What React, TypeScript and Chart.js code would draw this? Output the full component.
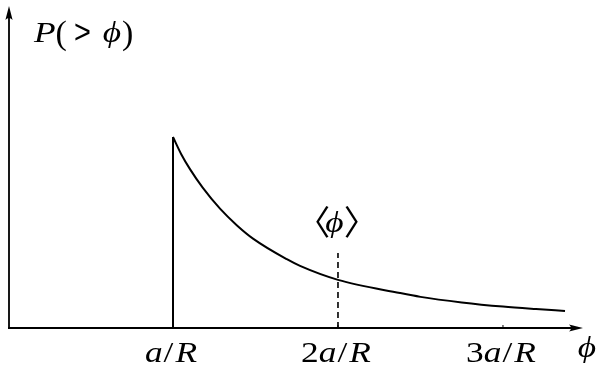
import React, { useEffect, useRef } from "react";
import { Chart, registerables } from "chart.js";

Chart.register(...registerables);

// phi in units of a/R, and P(>phi) normalised to its value at the cutoff
const phiValues = [1.0, 1.05, 1.103, 1.18, 1.285, 1.388, 1.485, 1.69, 1.77, 2.0, 2.376, 2.5, 2.75, 3.0, 3.2, 3.376];
const pValues = [1.0, 0.91, 0.832, 0.735, 0.625, 0.537, 0.468, 0.36, 0.325, 0.252, 0.183, 0.163, 0.134, 0.112, 0.099, 0.089];

const cutoffPhi = 1;
const meanPhi = 2;
const meanMarkerTop = 0.393;

const xMin = 0;
const xMax = 3.485;
const yMin = 0;
const yMax = 1.686;

const SERIF = "'Liberation Serif', 'DejaVu Serif', serif";
const SANS = "'Liberation Sans', 'DejaVu Sans', sans-serif";
const CJK = "'Noto Sans CJK SC', 'DejaVu Sans', sans-serif";

type Run = { t: string; it?: boolean; size?: number; gap?: number; sx?: number; dy?: number; f?: string };
const tickValues = [1, 2, 3];
const tickLabels: Run[][] = [
  [{ t: "a", it: true }, { t: "/", gap: 1 }, { t: "R", it: true, gap: 2 }],
  [{ t: "2" }, { t: "a", it: true }, { t: "/", gap: 1 }, { t: "R", it: true, gap: 2 }],
  [{ t: "3" }, { t: "a", it: true }, { t: "/", gap: 1 }, { t: "R", it: true, gap: 2 }],
];
const yTitle: Run[] = [
  { t: "P", it: true },
  { t: "(", size: 34, sx: 1, dy: 2 },
  { t: ">", size: 34, sx: 0.85, gap: 7, f: SANS, dy: 1 },
  { t: "\u03D5", it: true, gap: 12 },
  { t: ")", size: 34, sx: 1, dy: 2, gap: 1 },
];
const xTitle: Run[] = [{ t: "\u03D5", it: true }];
const meanLabel: Run[] = [
  { t: "\u3008", size: 34, sx: 1, f: CJK, dy: 3 },
  { t: "\u03D5", it: true, gap: -5 },
  { t: "\u3009", size: 34, sx: 1, f: CJK, dy: 3, gap: 0 },
];

const BASE_SIZE = 29;
const X_STRETCH = 1.22;

function font(r: Run) {
  return `${r.it ? "italic " : ""}${r.size ?? BASE_SIZE}px ${r.f ?? SERIF}`;
}

function drawRuns(
  ctx: CanvasRenderingContext2D,
  runs: Run[],
  x: number,
  baseline: number,
  align: "left" | "center"
) {
  ctx.save();
  ctx.fillStyle = "#000";
  ctx.textBaseline = "alphabetic";
  ctx.textAlign = "left";
  let total = 0;
  const widths = runs.map((r) => {
    ctx.font = font(r);
    const w = ctx.measureText(r.t).width * (r.sx ?? X_STRETCH);
    total += w + (r.gap ?? 0);
    return w;
  });
  let cx = align === "center" ? x - total / 2 : x;
  runs.forEach((r, i) => {
    cx += r.gap ?? 0;
    ctx.save();
    ctx.font = font(r);
    ctx.translate(cx, baseline + (r.dy ?? 0));
    ctx.scale(r.sx ?? X_STRETCH, 1);
    ctx.fillText(r.t, 0, 0);
    ctx.restore();
    cx += widths[i];
  });
  ctx.restore();
}

function arrowHead(
  ctx: CanvasRenderingContext2D,
  tx: number,
  ty: number,
  dx: number,
  dy: number
) {
  const len = 14;
  const hw = 3.6;
  const bx = tx - dx * len;
  const by = ty - dy * len;
  const px = -dy;
  const py = dx;
  ctx.beginPath();
  ctx.moveTo(tx, ty);
  ctx.lineTo(bx + px * hw, by + py * hw);
  ctx.quadraticCurveTo(bx + dx * 4, by + dy * 4, bx - px * hw, by - py * hw);
  ctx.closePath();
  ctx.fill();
}

const axesPlugin = {
  id: "axesPlugin",
  beforeDatasetsDraw(chart: any) {
    const { ctx, chartArea, scales } = chart;
    const x = scales.x;
    const y = scales.y;
    const ox = x.getPixelForValue(xMin) + 1;
    const oy = y.getPixelForValue(yMin);
    ctx.save();
    ctx.strokeStyle = "#000";
    ctx.fillStyle = "#000";
    ctx.lineWidth = 1.8;
    ctx.beginPath();
    ctx.moveTo(ox - 1, oy);
    ctx.lineTo(chartArea.right - 6, oy);
    ctx.moveTo(ox, oy);
    ctx.lineTo(ox, chartArea.top + 6);
    ctx.stroke();
    arrowHead(ctx, chartArea.right, oy, 1, 0);
    arrowHead(ctx, ox, chartArea.top, 0, -1);
    ctx.lineWidth = 1;
    tickValues.forEach((v) => {
      const px = x.getPixelForValue(v);
      ctx.beginPath();
      ctx.moveTo(px, oy);
      ctx.lineTo(px, oy - 3);
      ctx.stroke();
    });
    ctx.restore();
  },
  afterDraw(chart: any) {
    const { ctx, chartArea, scales } = chart;
    const x = scales.x;
    const y = scales.y;
    const oy = y.getPixelForValue(yMin);
    tickValues.forEach((v, i) => {
      drawRuns(ctx, tickLabels[i], x.getPixelForValue(v) - 2, oy + 34, "center");
    });
    drawRuns(ctx, xTitle, chartArea.right + 4, oy + 29, "center");
    drawRuns(ctx, yTitle, x.getPixelForValue(xMin) + 26, chartArea.top + 36, "left");
    drawRuns(
      ctx,
      meanLabel,
      x.getPixelForValue(meanPhi) - 1,
      y.getPixelForValue(meanMarkerTop) - 21,
      "center"
    );
  },
};

export default function App() {
  const ref = useRef<HTMLCanvasElement | null>(null);

  useEffect(() => {
    if (!ref.current) return;
    const curve = phiValues.map((p, i) => ({ x: p, y: pValues[i] }));
    const chart = new Chart(ref.current, {
      type: "line",
      data: {
        datasets: [
          {
            data: curve,
            borderColor: "#000",
            borderWidth: 2,
            cubicInterpolationMode: "monotone",
            pointRadius: 0,
            clip: false as any,
          },
          {
            data: [
              { x: cutoffPhi, y: yMin },
              { x: cutoffPhi, y: pValues[0] },
            ],
            borderColor: "#000",
            borderWidth: 2,
            tension: 0,
            pointRadius: 0,
            clip: false as any,
          },
          {
            data: [
              { x: meanPhi, y: yMin },
              { x: meanPhi, y: meanMarkerTop },
            ],
            borderColor: "#000",
            borderWidth: 1.6,
            borderDash: [6, 4],
            tension: 0,
            pointRadius: 0,
            clip: false as any,
          },
        ],
      },
      options: {
        animation: false,
        responsive: false,
        maintainAspectRatio: false,
        parsing: false as any,
        normalized: true,
        layout: { padding: { left: 8, right: 17, top: 6, bottom: 47 } },
        plugins: { legend: { display: false }, tooltip: { enabled: false } },
        scales: {
          x: { type: "linear", min: xMin, max: xMax, display: false },
          y: { type: "linear", min: yMin, max: yMax, display: false },
        },
      },
      plugins: [axesPlugin],
    });
    return () => chart.destroy();
  }, []);

  return (
    <div style={{ position: "fixed", left: 0, top: 0, width: 600, height: 375, background: "#fff" }}>
      <canvas ref={ref} width={600} height={375} style={{ width: 600, height: 375, display: "block" }} />
    </div>
  );
}
